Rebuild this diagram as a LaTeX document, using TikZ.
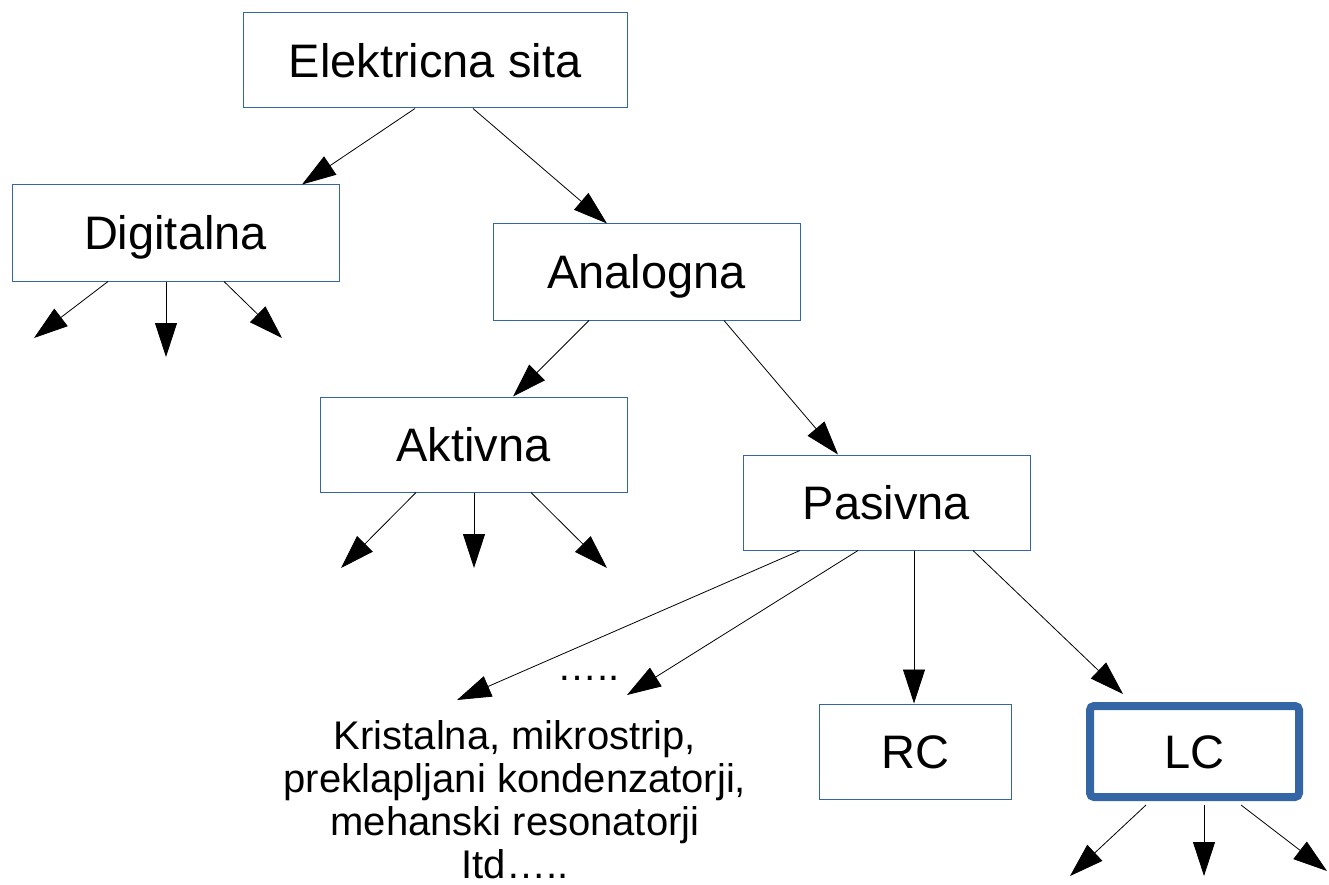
\documentclass[tikz,border=0pt]{standalone}
\usepackage{fontspec}
\setmainfont{Liberation Sans}
\usetikzlibrary{arrows.meta,calc}
\definecolor{bord}{HTML}{3465A4}
\begin{document}
\begin{tikzpicture}[x=1pt,y=-1pt,
  box/.style={draw=bord, line width=1pt, inner sep=0pt, fill=white,
    text height=33.7pt, text depth=0pt,
    font=\fontsize{47}{56}\selectfont},
  thickbox/.style={draw=bord, line width=8pt, rounded corners=4pt, inner sep=0pt,
    text height=33.7pt, text depth=0pt,
    font=\fontsize{47}{56}\selectfont},
  conn/.style={draw=black, line width=0.8pt, -{Triangle[length=34pt,width=22pt]}},
  lbl/.style={font=\fontsize{40}{43}\selectfont, align=center, inner sep=0pt}]
\useasboundingbox (0,0) rectangle (1329,885);

% nodes
\node[box, minimum width=384pt, minimum height=95pt] (e) at (435,60.5) {Elektricna sita};
\node[box, minimum width=327pt, minimum height=96pt] (dig) at (175.5,233) {Digitalna};
\node[box, minimum width=307pt, minimum height=96pt] (ana) at (646.5,272) {Analogna};
\node[box, minimum width=307pt, minimum height=95pt] (akt) at (473.5,444.5) {Aktivna};
\node[box, minimum width=287pt, minimum height=95pt] (pas) at (886.5,502.5) {Pasivna};
\node[box, minimum width=192pt, minimum height=95pt] (rc) at (915,751.5) {RC};
\node[thickbox, minimum width=209pt, minimum height=91pt] (lc) at (1194.5,751.5) {LC};
\node[lbl, anchor=base] (dots) at (588.5,680) {…..};
\node[lbl] (txt) at (515,800) {Kristalna, mikrostrip,\\preklapljani kondenzatorji,\\mehanski resonatorji\\Itd…..};

% free ends
\coordinate (d1) at (34,338);
\coordinate (d2) at (166,357);
\coordinate (d3) at (282,338);
\coordinate (a1) at (341,568);
\coordinate (a2) at (474,568);
\coordinate (a3) at (607,568);
\coordinate (t1) at (457,700);
\coordinate (t2) at (627,695);
\coordinate (l1) at (1070,876);
\coordinate (l2) at (1204,876);
\coordinate (l3) at (1327,871);

% connectors
\draw[conn] ($(e.south)+(-20,0)$) -- ($(dig.north)+(126.5,0)$);
\draw[conn] ($(e.south)+(38,0)$) -- ($(ana.north)+(-39.5,0)$);

\draw[conn] ($(dig.south)+(-67.5,0)$) -- (d1);
\draw[conn] ($(dig.south)+(-9.5,0)$) -- (d2);
\draw[conn] ($(dig.south)+(48.5,0)$) -- (d3);

\draw[conn] ($(ana.south)+(-57.5,0)$) -- ($(akt.north)+(39.5,0)$);
\draw[conn] ($(ana.south)+(77.5,0)$) -- ($(pas.north)+(-48.5,0)$);

\draw[conn] ($(akt.south)+(-57.5,0)$) -- (a1);
\draw[conn] ($(akt.south)+(0.5,0)$) -- (a2);
\draw[conn] ($(akt.south)+(57.5,0)$) -- (a3);

\draw[conn] ($(pas.south)+(-86.5,0)$) -- (t1);
\draw[conn] ($(pas.south)+(-28.5,0)$) -- (t2);
\draw[conn] ($(pas.south)+(27.5,0)$) -- ($(rc.north)+(-1,0)$);
\draw[conn] ($(pas.south)+(86.5,0)$) -- ($(lc.north)+(-71.5,-8)$);

\draw[conn] ($(lc.south)+(-48.5,4)$) -- (l1);
\draw[conn] ($(lc.south)+(9.5,4)$) -- (l2);
\draw[conn] ($(lc.south)+(46.5,4)$) -- (l3);
\end{tikzpicture}
\end{document}
